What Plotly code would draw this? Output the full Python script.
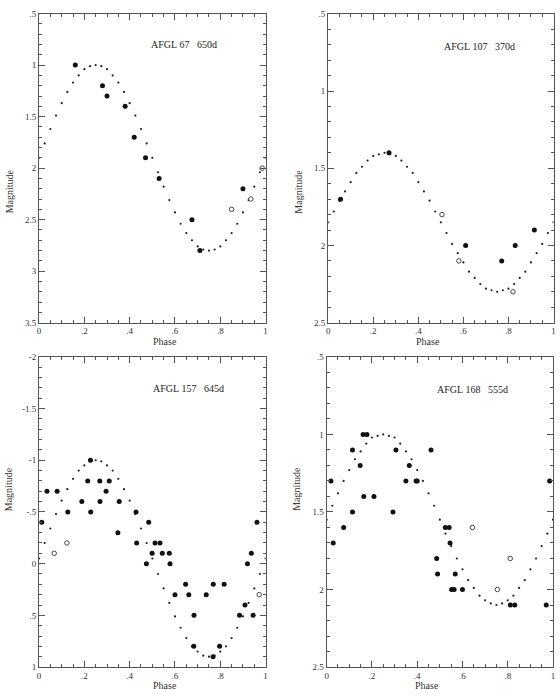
import plotly.graph_objects as go

# ---------------- data ----------------
curve_phase = [0.0, 0.025, 0.05, 0.075, 0.1, 0.125, 0.15, 0.175, 0.2, 0.225, 0.25,
               0.275, 0.3, 0.325, 0.35, 0.375, 0.4, 0.425, 0.45, 0.475, 0.5,
               0.525, 0.55, 0.575, 0.6, 0.625, 0.65, 0.675, 0.7, 0.725, 0.75,
               0.775, 0.8, 0.825, 0.85, 0.875, 0.9, 0.925, 0.95, 0.975, 1.0]

# AFGL 67
c1 = [1.90, 1.76, 1.62, 1.49, 1.37, 1.26, 1.17, 1.10, 1.04, 1.01, 1.00,
      1.01, 1.04, 1.10, 1.17, 1.26, 1.37, 1.49, 1.62, 1.76, 1.90,
      2.04, 2.18, 2.31, 2.43, 2.54, 2.63, 2.70, 2.76, 2.79, 2.80,
      2.79, 2.76, 2.70, 2.63, 2.54, 2.43, 2.31, 2.18, 2.04, 1.90]
f1_phase = [0.16, 0.28, 0.30, 0.38, 0.42, 0.47, 0.53, 0.675, 0.71, 0.90]
f1_mag = [1.0, 1.2, 1.3, 1.4, 1.7, 1.9, 2.1, 2.5, 2.8, 2.2]
o1_phase = [0.85, 0.935, 0.985]
o1_mag = [2.4, 2.3, 2.0]

# AFGL 107
c2 = [1.85, 1.78, 1.71, 1.65, 1.59, 1.53, 1.49, 1.45, 1.42, 1.41, 1.40,
      1.41, 1.42, 1.45, 1.49, 1.53, 1.59, 1.65, 1.71, 1.78, 1.85,
      1.92, 1.99, 2.05, 2.11, 2.17, 2.21, 2.25, 2.28, 2.29, 2.30,
      2.29, 2.28, 2.25, 2.21, 2.17, 2.11, 2.05, 1.99, 1.92, 1.85]
f2_phase = [0.055, 0.27, 0.61, 0.77, 0.83, 0.915]
f2_mag = [1.7, 1.4, 2.0, 2.1, 2.0, 1.9]
o2_phase = [0.505, 0.58, 0.82]
o2_mag = [1.8, 2.1, 2.3]

# AFGL 157
c3 = [-0.05, -0.20, -0.34, -0.48, -0.61, -0.72, -0.82, -0.90, -0.95, -0.99, -1.00,
      -0.99, -0.95, -0.90, -0.82, -0.72, -0.61, -0.48, -0.34, -0.20, -0.05,
      0.10, 0.24, 0.38, 0.51, 0.62, 0.72, 0.80, 0.85, 0.89, 0.90,
      0.89, 0.85, 0.80, 0.72, 0.62, 0.51, 0.38, 0.24, 0.10, -0.05]
f3_phase = [0.012, 0.035, 0.08, 0.127, 0.189, 0.215, 0.227, 0.228, 0.268, 0.269,
            0.296, 0.31, 0.354, 0.348, 0.428, 0.431, 0.484, 0.474, 0.499, 0.512,
            0.534, 0.544, 0.575, 0.578, 0.60, 0.647, 0.661, 0.684, 0.683, 0.738,
            0.769, 0.768, 0.797, 0.817, 0.885, 0.909, 0.92, 0.937, 0.945, 0.962]
f3_mag = [-0.4, -0.7, -0.7, -0.5, -0.6, -0.8, -1.0, -0.5, -0.8, -0.6,
          -0.7, -0.8, -0.6, -0.3, -0.5, -0.2, -0.4, 0.0, -0.1, -0.2,
          -0.2, -0.1, -0.1, 0.0, 0.3, 0.2, 0.3, 0.5, 0.8, 0.3,
          0.2, 0.9, 0.8, 0.2, 0.5, 0.4, 0.0, -0.1, 0.5, -0.4]
o3_phase = [0.067, 0.123, 0.972]
o3_mag = [-0.1, -0.2, 0.3]

# AFGL 168
c4 = [1.55, 1.46, 1.38, 1.30, 1.23, 1.16, 1.11, 1.06, 1.02, 1.01, 1.00,
      1.01, 1.02, 1.06, 1.11, 1.16, 1.23, 1.30, 1.38, 1.46, 1.55,
      1.64, 1.72, 1.80, 1.87, 1.94, 1.99, 2.04, 2.07, 2.09, 2.10,
      2.09, 2.07, 2.04, 1.99, 1.94, 1.87, 1.80, 1.72, 1.64, 1.55]
f4_phase = [0.019, 0.029, 0.075, 0.114, 0.114, 0.148, 0.161, 0.164, 0.178, 0.209,
            0.293, 0.306, 0.35, 0.365, 0.395, 0.40, 0.461, 0.486, 0.49, 0.524,
            0.541, 0.545, 0.552, 0.563, 0.568, 0.60, 0.811, 0.831, 0.97, 0.985]
f4_mag = [1.3, 1.7, 1.6, 1.1, 1.5, 1.2, 1.0, 1.4, 1.0, 1.4,
          1.5, 1.1, 1.3, 1.2, 1.3, 1.3, 1.1, 1.8, 1.9, 1.6,
          1.6, 1.7, 2.0, 2.0, 1.9, 2.0, 2.1, 2.1, 2.1, 1.3]
o4_phase = [0.644, 0.754, 0.811]
o4_mag = [1.6, 2.0, 1.8]

titles = ["AFGL 67   650d", "AFGL 107   370d", "AFGL 157   645d", "AFGL 168   555d"]
title_pos = [(0.64, 0.80), (0.67, 0.71), (0.66, -1.69), (0.645, 0.71)]

x_ticks = [0, 0.2, 0.4, 0.6, 0.8, 1]
x_ticktext = ["0", ".2", ".4", ".6", ".8", "1"]
y1_ticks = [0.5, 1, 1.5, 2, 2.5, 3, 3.5]
y1_ticktext = [".5", "1", "1.5", "2", "2.5", "3", "3.5"]
y2_ticks = [0.5, 1, 1.5, 2, 2.5]
y2_ticktext = [".5", "1", "1.5", "2", "2.5"]
y3_ticks = [-2, -1.5, -1, -0.5, 0, 0.5, 1]
y3_ticktext = ["-2", "-1.5", "-1", "-.5", "0", ".5", "1"]

# ---------------- figure ----------------
W, H = 560, 696
FONT = "Liberation Serif"
AX = "#555555"

panels = [
    dict(curve=c1, fp=f1_phase, fm=f1_mag, op=o1_phase, om=o1_mag,
         yr=[3.5, 0.5], yt=y1_ticks, ytt=y1_ticktext),
    dict(curve=c2, fp=f2_phase, fm=f2_mag, op=o2_phase, om=o2_mag,
         yr=[2.5, 0.5], yt=y2_ticks, ytt=y2_ticktext),
    dict(curve=c3, fp=f3_phase, fm=f3_mag, op=o3_phase, om=o3_mag,
         yr=[1, -2], yt=y3_ticks, ytt=y3_ticktext),
    dict(curve=c4, fp=f4_phase, fm=f4_mag, op=o4_phase, om=o4_mag,
         yr=[2.5, 0.5], yt=y2_ticks, ytt=y2_ticktext),
]

# pixel boxes (left, right, top, bottom)
boxes = [(37.3, 265.5, 8.7, 322.3), (328.5, 555.5, 9.0, 322.3),
         (37.3, 265.5, 357.0, 671.7), (327.0, 555.0, 357.0, 671.7)]

fig = go.Figure()
layout = dict(width=W, height=H, margin=dict(l=0, r=0, t=0, b=0),
              paper_bgcolor="white", plot_bgcolor="white", showlegend=False,
              font=dict(family=FONT, size=10, color="#333333"))
annotations = []

for i, (p, b) in enumerate(zip(panels, boxes)):
    n = i + 1
    xa = "x" if n == 1 else f"x{n}"
    ya = "y" if n == 1 else f"y{n}"
    l, r, t, bt = b
    xdom = [l / W, r / W]
    ydom = [1 - bt / H, 1 - t / H]
    common = dict(showgrid=False, zeroline=False, showline=True, linecolor=AX,
                  linewidth=1, mirror="ticks", ticks="inside", tickcolor=AX,
                  tickwidth=1, tickfont=dict(family=FONT, size=9, color="#333333"))
    layout["xaxis" if n == 1 else f"xaxis{n}"] = dict(
        domain=xdom, range=[0, 1], anchor=ya, tickmode="array",
        tickvals=x_ticks, ticktext=x_ticktext, ticklen=6,
        minor=dict(tickmode="linear", tick0=0, dtick=0.05, ticklen=3,
                   ticks="inside", tickcolor=AX, showgrid=False),
        **common)
    layout["yaxis" if n == 1 else f"yaxis{n}"] = dict(
        domain=ydom, range=p["yr"], anchor=xa, tickmode="array",
        tickvals=p["yt"], ticktext=p["ytt"], ticklen=6,
        minor=dict(tickmode="linear", tick0=0, dtick=0.1, ticklen=3,
                   ticks="inside", tickcolor=AX, showgrid=False),
        **common)

    fig.add_trace(go.Scatter(x=curve_phase, y=p["curve"], mode="markers",
                             xaxis=xa, yaxis=ya, cliponaxis=True,
                             marker=dict(size=2.2, color="#222222")))
    fig.add_trace(go.Scatter(x=p["fp"], y=p["fm"], mode="markers",
                             xaxis=xa, yaxis=ya, cliponaxis=False,
                             marker=dict(size=5, color="#111111")))
    fig.add_trace(go.Scatter(x=p["op"], y=p["om"], mode="markers",
                             xaxis=xa, yaxis=ya, cliponaxis=False,
                             marker=dict(size=4.5, color="white", symbol="circle",
                                         line=dict(width=0.9, color="#333333"))))
    tx, ty = title_pos[i]
    annotations.append(dict(x=tx, y=ty, xref=xa, yref=ya,
                            text=titles[i].replace(" ", "\u00a0"), showarrow=False,
                            font=dict(family=FONT, size=10, color="#222222")))
    # axis titles
    xmid = (l + r) / 2 / W
    annotations.append(dict(x=xmid, y=1 - (bt + 18.8) / H, xref="paper", yref="paper",
                            text="Phase", showarrow=False, yanchor="middle",
                            borderpad=0,
                            font=dict(family=FONT, size=10, color="#333333")))
    ymid = 1 - (t + bt) / 2 / H
    annotations.append(dict(x=(l - 30) / W, y=ymid, xref="paper", yref="paper",
                            text="Magnitude", showarrow=False, textangle=-90,
                            xanchor="center", borderpad=0,
                            font=dict(family=FONT, size=10, color="#333333")))

layout["annotations"] = annotations
fig.update_layout(**layout)
fig.write_html("out.html", config={"displayModeBar": False},
               post_script="document.body.style.margin='0';document.body.style.overflow='hidden';")
